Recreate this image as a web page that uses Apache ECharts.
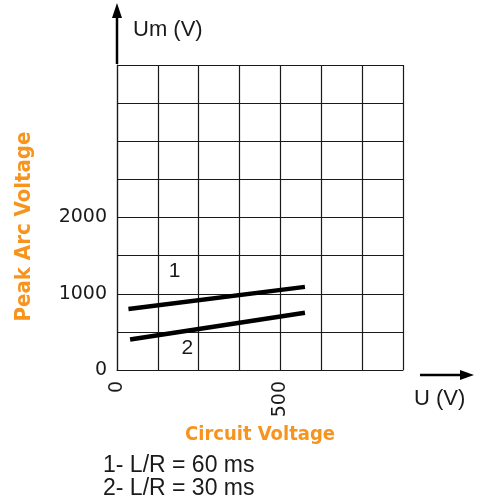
<!DOCTYPE html>
<html>
<head>
<meta charset="utf-8">
<script src="https://cdn.jsdelivr.net/npm/echarts@6/dist/echarts.min.js"></script>
<style>
  html, body { margin: 0; padding: 0; background: #fff; }
  #chart { width: 477px; height: 502px; }
</style>
</head>
<body>
<div id="chart"></div>
<script>
// data
const curve1 = [[35, 800], [575, 1090]];   // L/R = 60 ms
const curve2 = [[40, 400], [575, 750]];    // L/R = 30 ms
const xTicksShown = [0, 500];
const yTicksShown = [0, 1000, 2000];
const legendLines = ['1- L/R = 60 ms', '2- L/R = 30 ms'];

const orange = '#f7941d';
const ink = '#1a1a1a';
const tickFont = 'DejaVu Sans';
const textFont = '"Liberation Sans"';
const titleFont = '"DejaVu Sans Condensed", "Liberation Sans", sans-serif';

var myChart = echarts.init(document.getElementById('chart'));
myChart.setOption({
  animation: false,
  grid: { left: 117, right: 74, top: 65, bottom: 132 },
  xAxis: {
    type: 'value',
    min: 0, max: 875, interval: 125,
    name: 'Circuit Voltage',
    nameLocation: 'middle',
    nameGap: 55,
    nameTextStyle: { color: orange, fontFamily: titleFont, fontWeight: 'bold', fontSize: 20 },
    axisLine: { lineStyle: { color: ink, width: 1.2 } },
    axisTick: { show: false },
    splitLine: { lineStyle: { color: ink, width: 1.2 } },
    axisLabel: {
      rotate: 90, margin: 11, color: ink, fontFamily: tickFont, fontSize: 19,
      formatter: v => xTicksShown.includes(v) ? String(v) : ''
    }
  },
  yAxis: {
    type: 'value',
    min: 0, max: 4000, interval: 500,
    name: 'Peak Arc Voltage',
    nameLocation: 'middle',
    nameRotate: 90,
    nameGap: 82,
    nameTextStyle: { color: orange, fontFamily: titleFont, fontWeight: 'bold', fontSize: 22, padding: [0, 18, 0, 0] },
    axisLine: { show: true, lineStyle: { color: ink, width: 1.2 } },
    axisTick: { show: false },
    splitLine: { lineStyle: { color: ink, width: 1.2 } },
    axisLabel: {
      margin: 10, color: ink, fontFamily: tickFont, fontSize: 19,
      formatter: v => yTicksShown.includes(v) ? String(v) : ''
    }
  },
  series: [
    {
      type: 'line', data: curve1, symbol: 'none',
      lineStyle: { color: '#000', width: 4.5 },
      markPoint: {
        symbol: 'circle', symbolSize: 0,
        label: { show: true, formatter: '1', color: ink, fontFamily: textFont, fontSize: 21 },
        data: [{ coord: [176, 1300] }]
      }
    },
    {
      type: 'line', data: curve2, symbol: 'none',
      lineStyle: { color: '#000', width: 4.5 },
      markPoint: {
        symbol: 'circle', symbolSize: 0,
        label: { show: true, formatter: '2', color: ink, fontFamily: textFont, fontSize: 21 },
        data: [{ coord: [215, 285] }]
      }
    }
  ],
  graphic: [
    // y axis arrow
    { type: 'line', shape: { x1: 117, y1: 64, x2: 117, y2: 14 }, style: { stroke: '#000', lineWidth: 2.5 } },
    { type: 'polygon', shape: { points: [[117, 3], [112, 18], [122, 18]] }, style: { fill: '#000' } },
    { type: 'text', left: 133, top: 19, style: { text: 'Um (V)', fill: ink, font: '22px "Liberation Sans"' } },
    // x axis arrow
    { type: 'line', shape: { x1: 420, y1: 375, x2: 462, y2: 375 }, style: { stroke: '#000', lineWidth: 2.5 } },
    { type: 'polygon', shape: { points: [[474, 375], [460, 370], [460, 380]] }, style: { fill: '#000' } },
    { type: 'text', left: 414, top: 388, style: { text: 'U (V)', fill: ink, font: '22px "Liberation Sans"' } },
    // curve legend
    { type: 'text', left: 103, top: 454, style: { text: legendLines.join('\n'), fill: ink, font: '23px "Liberation Sans"', lineHeight: 23 } }
  ]
});
</script>
</body>
</html>
